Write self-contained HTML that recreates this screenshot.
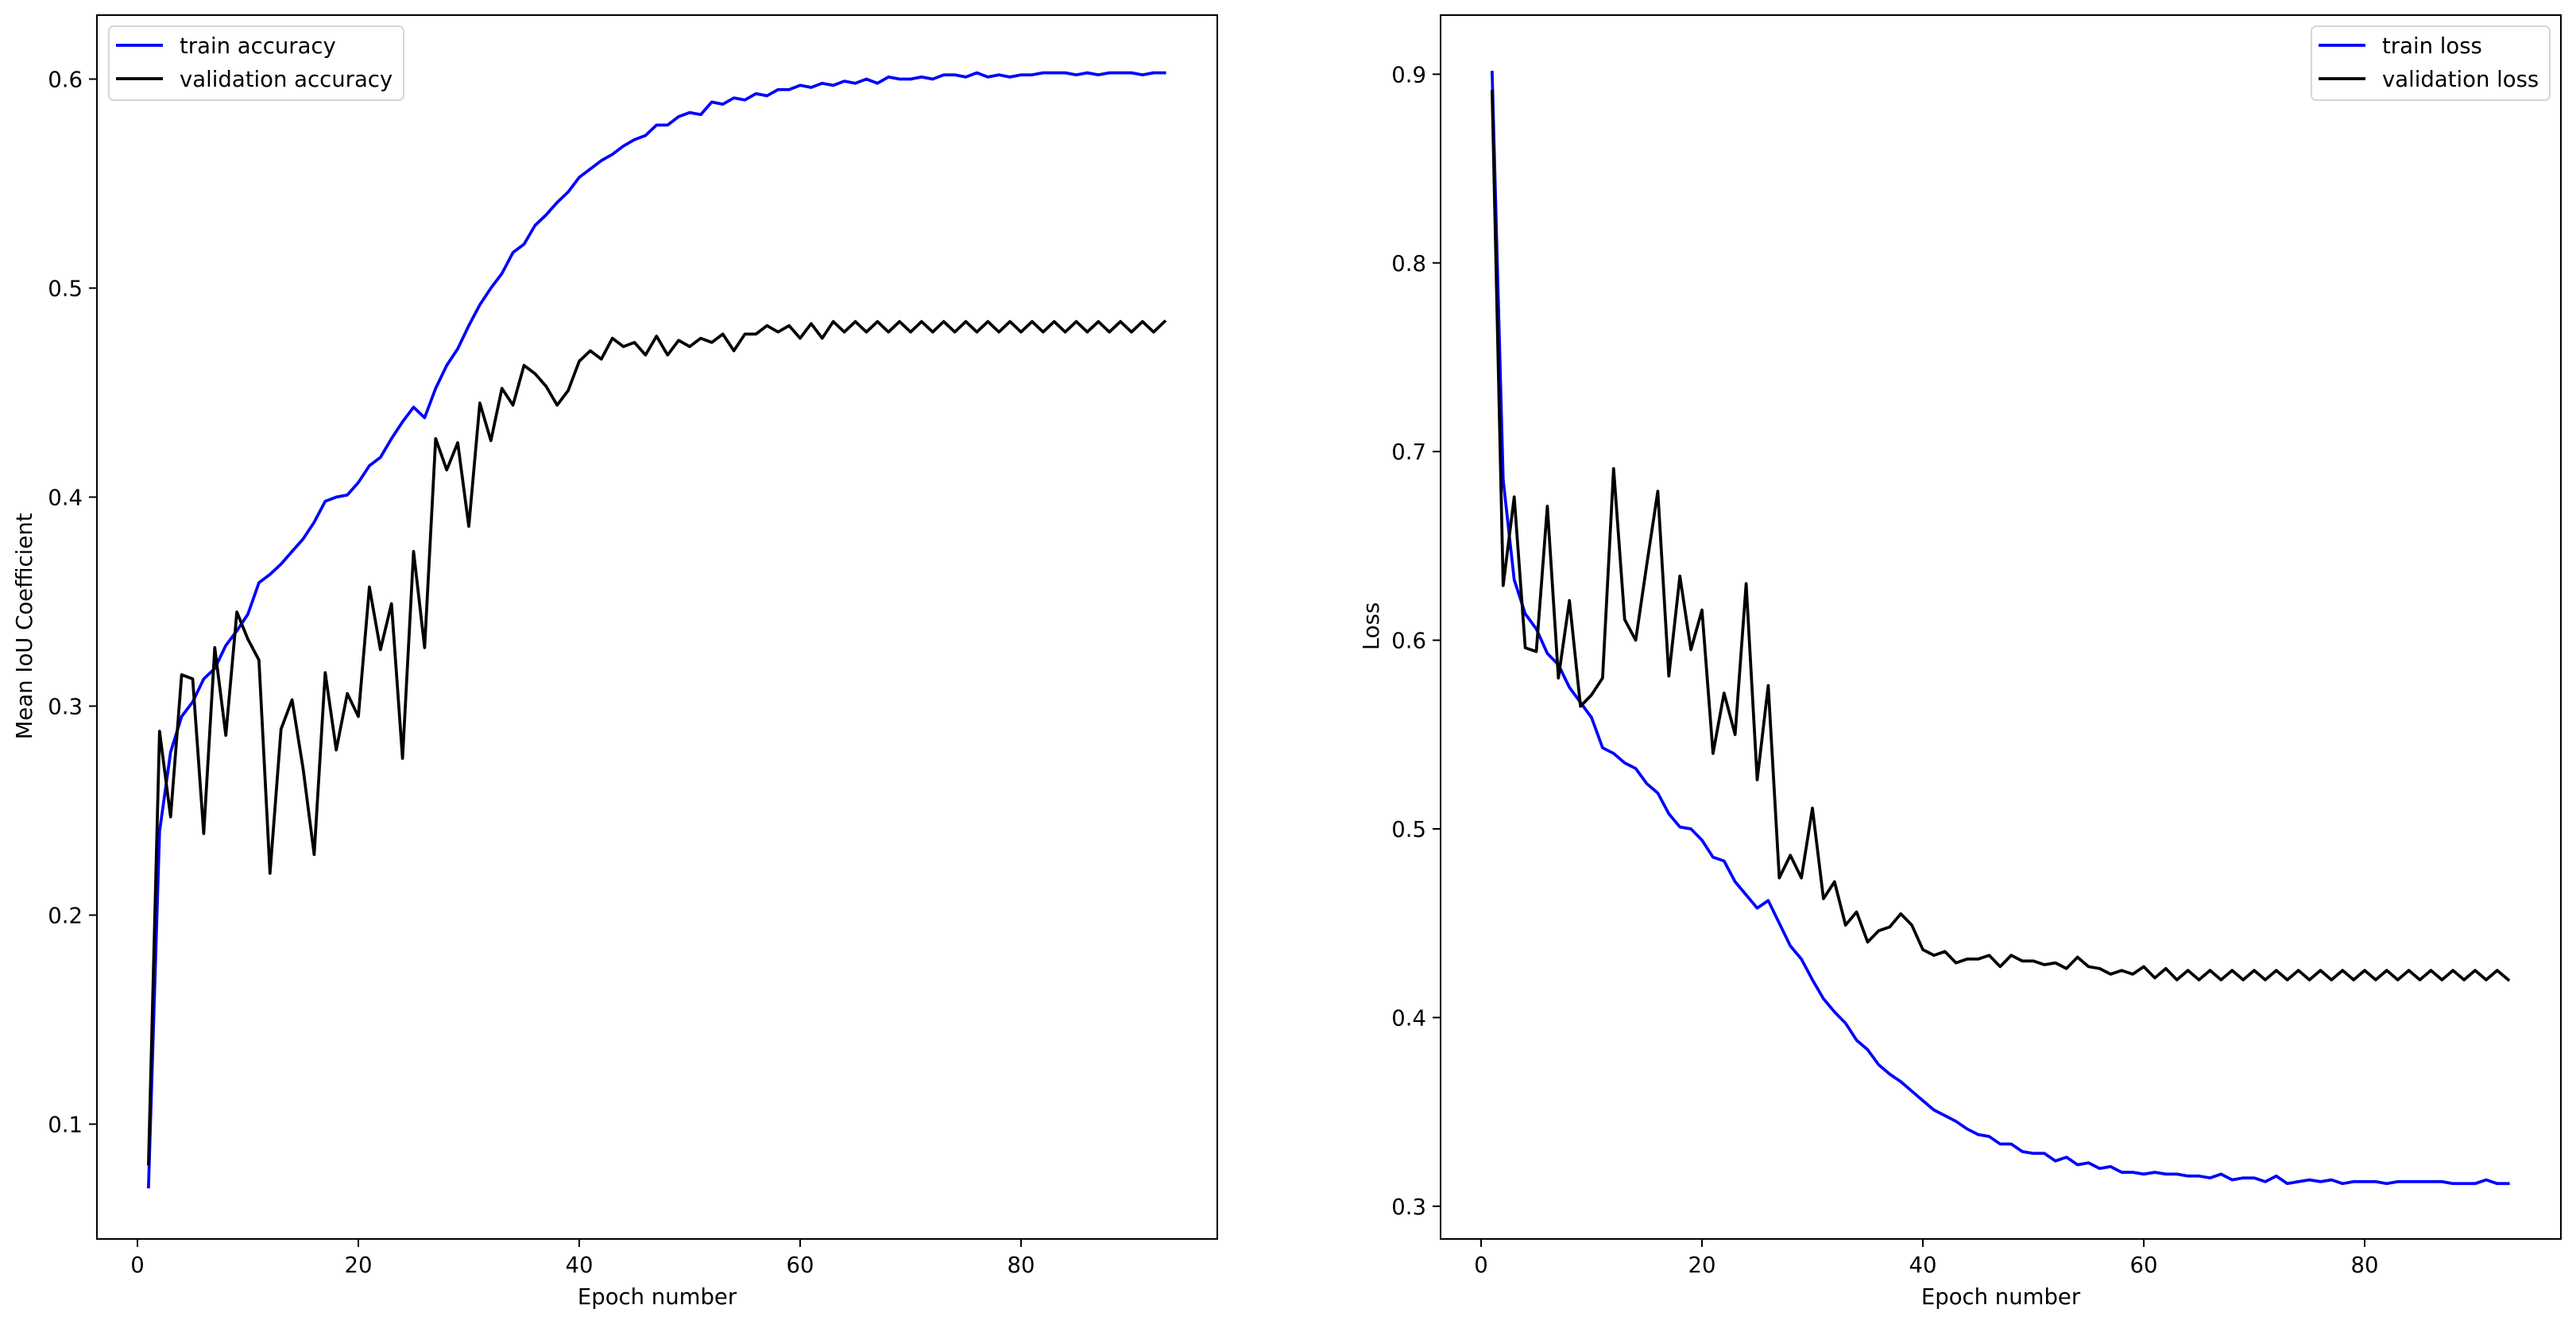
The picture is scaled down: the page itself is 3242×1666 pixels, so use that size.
<!DOCTYPE html>
<html><head><meta charset="utf-8"><style>
html,body{margin:0;padding:0;background:#fff;}
svg{display:block;font-family:"DejaVu Sans","Liberation Sans",sans-serif;}
</style></head><body>
<svg id="s" width="3242" height="1666" xmlns="http://www.w3.org/2000/svg">
<rect width="3242" height="1666" fill="#fff"/>
<g id="g"></g>
<text x="827" y="1641" font-size="27.5" text-anchor="middle">Epoch number</text>
<text x="2518" y="1641" font-size="27.5" text-anchor="middle">Epoch number</text>
<text transform="translate(40,788) rotate(-90)" font-size="27.5" text-anchor="middle">Mean IoU Coefficient</text>
<text transform="translate(1735,788) rotate(-90)" font-size="27.5" text-anchor="middle">Loss</text>
<rect x="137" y="33" width="371" height="93" rx="6" fill="#fff" fill-opacity="0.8" stroke="#d6d6d6" stroke-width="2"/>
<line x1="146" y1="57" x2="205" y2="57" stroke="#00f" stroke-width="3.75"/>
<line x1="146" y1="99" x2="205" y2="99" stroke="#000" stroke-width="3.75"/>
<text x="226" y="67" font-size="27.5">train accuracy</text>
<text x="226" y="109" font-size="27.5">validation accuracy</text>
<rect x="2909" y="33" width="300" height="93" rx="6" fill="#fff" fill-opacity="0.8" stroke="#d6d6d6" stroke-width="2"/>
<line x1="2918" y1="57" x2="2977" y2="57" stroke="#00f" stroke-width="3.75"/>
<line x1="2918" y1="99" x2="2977" y2="99" stroke="#000" stroke-width="3.75"/>
<text x="2998" y="67" font-size="27.5">train loss</text>
<text x="2998" y="109" font-size="27.5">validation loss</text>
</svg>
<script>
var ta=[0.07,0.24,0.278,0.295,0.302,0.313,0.318,0.329,0.336,0.344,0.359,0.363,0.368,0.374,0.38,0.388,0.398,0.40,0.401,0.407,0.415,0.419,0.428,0.436,0.443,0.438,0.452,0.463,0.471,0.482,0.492,0.5,0.507,0.517,0.521,0.53,0.535,0.541,0.546,0.553,0.557,0.561,0.564,0.568,0.571,0.573,0.578,0.578,0.582,0.584,0.583,0.589,0.588,0.591,0.59,0.593,0.592,0.595,0.595,0.597,0.596,0.598,0.597,0.599,0.598,0.6,0.598,0.601,0.6,0.6,0.601,0.6,0.602,0.602,0.601,0.603,0.601,0.602,0.601,0.602,0.602,0.603,0.603,0.603,0.602,0.603,0.602,0.603,0.603,0.603,0.602,0.603,0.603];
var va=[0.081,0.288,0.247,0.315,0.313,0.239,0.328,0.286,0.345,0.332,0.322,0.22,0.289,0.303,0.27,0.229,0.316,0.279,0.306,0.295,0.357,0.327,0.349,0.275,0.374,0.328,0.428,0.413,0.426,0.386,0.445,0.427,0.452,0.444,0.463,0.459,0.453,0.444,0.451,0.465,0.47,0.466,0.476,0.472,0.474,0.468,0.477,0.468,0.475,0.472,0.476,0.474,0.478,0.47,0.478,0.478,0.482,0.479,0.482,0.476,0.483,0.476,0.484];
while(va.length<93){va.push(va.length%2==0?0.484:0.479);}
var tl=[0.901,0.685,0.632,0.614,0.606,0.593,0.587,0.575,0.567,0.559,0.543,0.54,0.535,0.532,0.524,0.519,0.508,0.501,0.5,0.494,0.485,0.483,0.472,0.465,0.458,0.462,0.45,0.438,0.431,0.42,0.41,0.403,0.397,0.388,0.383,0.375,0.37,0.366,0.361,0.356,0.351,0.348,0.345,0.341,0.338,0.337,0.333,0.333,0.329,0.328,0.328,0.324,0.326,0.322,0.323,0.32,0.321,0.318,0.318,0.317,0.318,0.317,0.317,0.316,0.316,0.315,0.317,0.314,0.315,0.315,0.313,0.316,0.312,0.313,0.314,0.313,0.314,0.312,0.313,0.313,0.313,0.312,0.313,0.313,0.313,0.313,0.313,0.312,0.312,0.312,0.314,0.312,0.312];
var vl=[0.891,0.629,0.676,0.596,0.594,0.671,0.58,0.621,0.565,0.571,0.58,0.691,0.611,0.6,0.64,0.679,0.581,0.634,0.595,0.616,0.54,0.572,0.55,0.63,0.526,0.576,0.474,0.486,0.474,0.511,0.463,0.472,0.449,0.456,0.44,0.446,0.448,0.455,0.449,0.436,0.433,0.435,0.429,0.431,0.431,0.433,0.427,0.433,0.43,0.43,0.428,0.429,0.426,0.432,0.427,0.426,0.423,0.425,0.423,0.427,0.421,0.426,0.42,0.425,0.42,0.425];
while(vl.length<93){vl.push(vl.length%2==0?0.42:0.425);}
var g=document.getElementById('g'),h='';
function yA(v){return 99.5+(0.6-v)*2630;}
function yL(v){return 93.4+(0.9-v)*2374;}
function poly(d,x0,fy,c){var p=d.map(function(v,i){return (x0+13.9*(i+1)).toFixed(1)+','+fy(v).toFixed(1);}).join(' ');
 return '<polyline points="'+p+'" fill="none" stroke="'+c+'" stroke-width="3.75" stroke-linejoin="round" stroke-linecap="square"/>';}
h+='<rect x="122" y="19" width="1410" height="1540" fill="none" stroke="#000" stroke-width="2"/>';
h+='<rect x="1813" y="19" width="1410" height="1540" fill="none" stroke="#000" stroke-width="2"/>';
for(var k=0;k<=80;k+=20){
 [173,1864].forEach(function(x0){var x=x0+13.9*k;
 h+='<line x1="'+x+'" y1="1559" x2="'+x+'" y2="1569" stroke="#000" stroke-width="2"/>';
 h+='<text x="'+x+'" y="1601" font-size="27.5" text-anchor="middle">'+k+'</text>';});
}
for(var i=1;i<=6;i++){var v=i/10,y=yA(v);
 h+='<line x1="112" y1="'+y+'" x2="122" y2="'+y+'" stroke="#000" stroke-width="2"/>';
 h+='<text x="104" y="'+(y+10)+'" font-size="27.5" text-anchor="end">'+v.toFixed(1)+'</text>';}
for(var i=3;i<=9;i++){var v=i/10,y=yL(v);
 h+='<line x1="1803" y1="'+y+'" x2="1813" y2="'+y+'" stroke="#000" stroke-width="2"/>';
 h+='<text x="1795" y="'+(y+10)+'" font-size="27.5" text-anchor="end">'+v.toFixed(1)+'</text>';}
h+=poly(ta,173,yA,'#0000ff')+poly(va,173,yA,'#000');
h+=poly(tl,1864,yL,'#0000ff')+poly(vl,1864,yL,'#000');
g.innerHTML=h;
</script>
</body></html>
